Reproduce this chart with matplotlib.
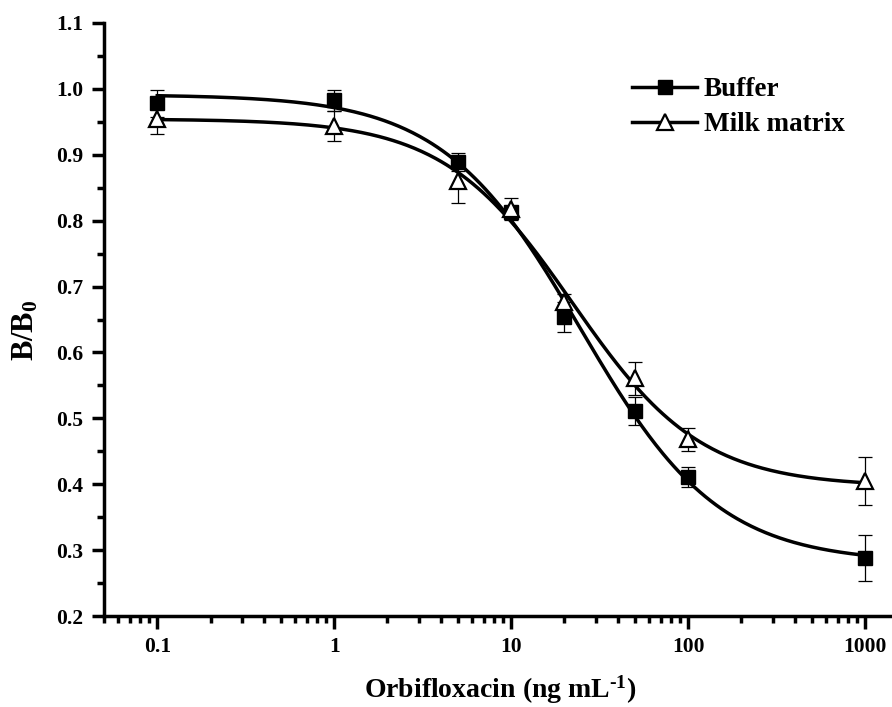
import numpy as np
import matplotlib
matplotlib.use("Agg")
import matplotlib.pyplot as plt

# ---- data ----
conc = [0.1, 1, 5, 10, 20, 50, 100, 1000]
buffer_vals = [0.978, 0.983, 0.889, 0.813, 0.654, 0.511, 0.411, 0.288]
buffer_err = [0.020, 0.016, 0.014, 0.010, 0.023, 0.021, 0.015, 0.035]
milk_vals = [0.954, 0.944, 0.860, 0.818, 0.677, 0.561, 0.468, 0.405]
milk_err = [0.022, 0.023, 0.033, 0.017, 0.012, 0.025, 0.017, 0.036]
series_labels = ["Buffer", "Milk matrix"]
x_ticks = [0.1, 1, 10, 100, 1000]
x_ticklabels = ["0.1", "1", "10", "100", "1000"]
y_ticks = [0.2, 0.3, 0.4, 0.5, 0.6, 0.7, 0.8, 0.9, 1.0, 1.1]


def fit_4pl(x, y):
    """Least-squares four-parameter logistic fit (grid over C,B; linear in A,D)."""
    x = np.asarray(x, float)
    y = np.asarray(y, float)
    best = None
    for C in np.logspace(0, 2.3, 300):
        for B in np.linspace(0.4, 2.5, 211):
            s = 1.0 / (1.0 + (x / C) ** B)
            M = np.column_stack([s, 1 - s])
            coef, *_ = np.linalg.lstsq(M, y, rcond=None)
            r = np.sum((M @ coef - y) ** 2)
            if best is None or r < best[0]:
                best = (r, coef[0], coef[1], C, B)
    _, A, D, C, B = best
    return lambda xx: D + (A - D) / (1.0 + (xx / C) ** B)


plt.rcParams["font.family"] = ["Liberation Serif", "DejaVu Serif"]
plt.rcParams["font.weight"] = "bold"
plt.rcParams["mathtext.fontset"] = "custom"
plt.rcParams["mathtext.rm"] = "Liberation Serif:bold"
plt.rcParams["mathtext.bf"] = "Liberation Serif:bold"
plt.rcParams["mathtext.it"] = "Liberation Serif:bold"
plt.rcParams["mathtext.default"] = "bf"

fig = plt.figure(figsize=(8.92, 7.07), dpi=100)
ax = fig.add_axes([104 / 892, 1 - 616 / 707, 1 - 104 / 892, (616 - 23) / 707])

xs = np.logspace(np.log10(conc[0]), np.log10(conc[-1]), 400)
lw = 2.5
f_b = fit_4pl(conc, buffer_vals)
f_m = fit_4pl(conc, milk_vals)

ax.errorbar(conc, buffer_vals, yerr=buffer_err, fmt="none", ecolor="black",
            elinewidth=0.9, capsize=5, capthick=0.9, zorder=2)
ax.errorbar(conc, milk_vals, yerr=milk_err, fmt="none", ecolor="black",
            elinewidth=0.9, capsize=5, capthick=0.9, zorder=2)
ax.plot(xs, f_b(xs), color="black", lw=lw, zorder=3)
ax.plot(xs, f_m(xs), color="black", lw=lw, zorder=3)
ax.plot(conc, buffer_vals, ls="none", marker="s", ms=10, color="black", zorder=4)
ax.plot(conc, milk_vals, ls="none", marker="^", ms=12, mfc="white",
        mec="black", mew=1.6, zorder=5)

# legend handles
h1, = ax.plot([], [], color="black", lw=lw, marker="s", ms=10)
h2, = ax.plot([], [], color="black", lw=lw, marker="^", ms=11, mfc="white",
              mec="black", mew=1.6)
leg = ax.legend([h1, h2], series_labels, loc="upper left",
                bbox_to_anchor=((632 - 104) / 788, 1 - (77 - 23) / 593), frameon=False,
                prop={"family": "Liberation Serif", "weight": "bold", "size": 19.5},
                handlelength=2.4, handletextpad=0.25, labelspacing=0.38,
                borderaxespad=0, borderpad=0)

ax.set_xscale("log")
ax.set_xlim(0.05, 1420)
ax.set_ylim(0.2, 1.1)
ax.set_xticks(x_ticks)
ax.set_xticklabels(x_ticklabels)
ax.set_yticks(y_ticks)
ax.set_yticklabels([f"{v:.1f}" for v in y_ticks])
ax.xaxis.set_minor_locator(matplotlib.ticker.LogLocator(base=10, subs=np.arange(2, 10)))
ax.xaxis.set_minor_formatter(matplotlib.ticker.NullFormatter())
ax.yaxis.set_minor_locator(matplotlib.ticker.MultipleLocator(0.05))

for side in ("top", "right"):
    ax.spines[side].set_visible(False)
for side in ("left", "bottom"):
    ax.spines[side].set_linewidth(2.5)
ax.tick_params(which="major", direction="out", length=9, width=2.5,
               labelsize=15.5, pad=6)
ax.tick_params(which="minor", direction="out", length=5, width=2.5)
for lab in ax.get_xticklabels() + ax.get_yticklabels():
    lab.set_fontweight("bold")

ax.set_xlabel("Orbifloxacin (ng mL$^{\\text{-}1}$)", fontsize=20, fontweight="bold")
ax.set_ylabel("B/B$_{0}$", fontsize=22, fontweight="bold")
ax.xaxis.set_label_coords((500 - 104) / 788, -(690 - 616) / 593)
ax.yaxis.set_label_coords(-(104 - 26) / 788, 1 - (330 - 23) / 593)
ax.xaxis.label.set_va("center")
ax.yaxis.label.set_va("center")

fig.savefig("out.png", dpi=100)
